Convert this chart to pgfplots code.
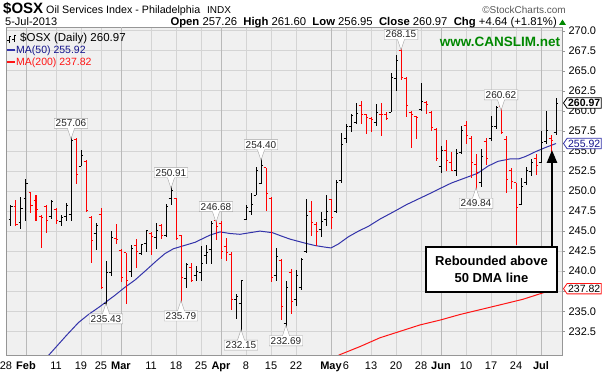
\documentclass[border=0pt]{standalone}
\usepackage{fontspec}
\setmainfont{Liberation Sans}
\usepackage{pgfplots}
\pgfplotsset{compat=1.18}
\usepackage{pgfplotstable}
\usetikzlibrary{shapes.callouts,shapes.symbols,arrows.meta}

\definecolor{plotbg}{RGB}{240,240,240}
\definecolor{gridc}{RGB}{212,212,212}
\definecolor{monthc}{RGB}{185,185,185}
\definecolor{borderc}{RGB}{150,150,150}
\definecolor{barred}{RGB}{255,0,0}
\definecolor{mablue}{RGB}{51,51,170}
\definecolor{mared}{RGB}{255,20,20}
\definecolor{cgreen}{RGB}{0,136,0}
\definecolor{lblgray}{RGB}{165,165,165}
\definecolor{navytxt}{RGB}{20,20,140}

\pgfdeclareplotmark{openL}{\pgfpathmoveto{\pgfpoint{-\pgfplotmarksize}{0pt}}\pgfpathlineto{\pgfpoint{0pt}{0pt}}\pgfusepathqstroke}
\pgfdeclareplotmark{closeR}{\pgfpathmoveto{\pgfpoint{0pt}{0pt}}\pgfpathlineto{\pgfpoint{\pgfplotmarksize}{0pt}}\pgfusepathqstroke}

\tikzset{
  lblup/.style={rectangle callout, draw=lblgray, fill=white, text=black!85, font=\fontsize{10}{10}\selectfont, inner xsep=1.5pt, inner ysep=1.5pt, yshift=11pt, callout relative pointer={(0pt,-10.5pt)}, callout pointer width=7pt},
  lbldn/.style={rectangle callout, draw=lblgray, fill=white, text=black!85, font=\fontsize{10}{10}\selectfont, inner xsep=1.5pt, inner ysep=1.5pt, yshift=-11pt, callout relative pointer={(0pt,10.5pt)}, callout pointer width=7pt},
}

\pgfplotstableread{
x O H L C
1 246.45 248.25 245.64 248.05
3 246.04 249.25 245.24 247.85
4 249.05 251.45 246.25 250.97
9 246.85 248.85 246.45 248.73
11 246.25 247.05 245.64 246.65
12 246.85 248.45 246.25 248.25
13 247.05 257.06 246.25 256.26
15 253.06 255.06 253.06 254.46
18 244.64 246.04 242.64 245.70
20 235.91 241.24 235.43 239.83
21 239.83 245.04 239.43 244.24
25 239.91 243.24 239.23 242.84
27 242.24 243.44 242.04 243.36
28 243.44 245.12 242.44 245.04
30 244.24 246.04 242.72 245.04
32 244.44 248.33 244.32 248.05
33 249.05 250.91 248.25 250.05
36 239.03 241.04 237.91 240.84
38 239.50 240.70 238.80 240.00
39 239.80 243.10 238.80 241.00
40 241.90 243.30 240.90 242.30
41 242.70 246.20 240.90 246.00
46 236.50 237.10 234.10 236.80
47 236.00 238.90 232.15 238.80
48 246.50 248.20 246.40 248.00
49 247.50 249.70 247.00 248.30
50 249.50 253.00 249.50 252.60
51 250.90 254.40 250.90 253.20
54 239.50 242.90 238.80 241.80
56 233.50 238.80 232.69 238.00
58 236.50 240.20 235.70 239.50
59 238.00 241.60 237.70 241.50
60 242.40 249.00 242.30 247.00
63 245.20 247.40 244.30 246.20
64 246.50 249.50 245.60 247.50
66 247.40 251.40 247.30 251.00
67 251.30 257.20 251.00 255.80
68 256.50 258.30 256.00 258.10
69 258.00 259.60 257.30 259.40
70 258.50 261.00 258.30 259.70
74 258.50 260.80 258.10 259.80
77 259.80 264.70 259.80 264.10
78 264.00 266.90 262.50 266.30
83 260.10 263.50 260.00 261.20
87 253.00 255.60 252.30 255.10
90 252.50 255.20 251.90 254.70
91 254.80 258.10 254.60 257.60
95 251.00 255.20 250.50 254.30
97 256.60 259.30 256.20 258.00
98 258.00 260.60 257.70 260.40
103 248.30 251.60 248.20 250.60
104 251.00 253.00 250.80 252.60
105 252.40 254.00 251.90 253.60
107 253.60 257.50 253.50 256.00
108 256.20 260.00 255.80 257.50
110 257.26 261.60 256.95 260.97
}\blackbars

\pgfplotstableread{
x O H L C
2 248.05 248.85 245.64 245.84
5 249.85 249.93 247.25 248.25
6 248.85 249.45 246.25 247.65
7 246.85 247.05 242.84 246.65
8 248.05 248.25 244.72 246.33
10 247.65 247.85 245.84 246.33
14 256.46 256.66 250.85 252.05
16 253.66 253.86 247.45 247.53
17 246.73 246.85 241.04 243.84
19 247.05 247.85 237.83 237.91
22 244.04 245.92 243.36 243.92
23 242.64 242.72 238.63 239.23
24 242.30 242.32 235.91 238.80
26 243.24 244.04 240.44 242.50
29 244.72 244.84 242.04 244.30
31 245.64 245.92 244.04 244.44
34 249.05 249.13 243.84 244.04
35 244.44 244.56 235.79 239.23
37 240.50 241.00 238.60 238.90
42 246.30 246.68 243.90 245.60
43 246.00 246.20 241.50 242.50
44 243.10 244.20 241.30 242.30
45 242.10 242.40 235.20 236.50
52 252.90 252.90 247.45 249.70
53 249.10 249.30 238.70 239.20
55 241.30 241.50 233.90 235.65
57 239.80 240.30 234.60 236.20
61 247.50 248.75 244.40 246.10
62 245.80 246.10 243.10 245.00
65 249.00 249.00 245.20 246.75
71 260.60 261.25 258.30 259.50
72 259.50 259.60 257.10 259.20
73 259.00 259.20 257.30 258.90
75 259.60 261.00 256.80 259.50
76 259.60 259.90 258.90 259.10
79 267.50 268.15 263.80 264.20
80 264.00 264.20 259.20 260.60
81 259.80 260.00 255.40 259.60
82 259.30 259.40 256.50 259.20
84 261.00 261.20 259.60 260.80
85 259.80 260.00 257.50 257.90
86 257.70 257.90 253.75 254.00
88 255.00 256.30 252.50 253.80
89 253.60 254.90 252.50 252.60
92 258.20 258.70 255.80 256.90
93 256.50 256.80 251.60 253.50
94 253.30 254.60 249.84 252.30
96 256.20 256.60 253.30 254.00
99 260.50 260.62 257.10 257.30
100 256.40 256.80 249.80 251.40
101 252.50 252.90 250.20 251.20
102 251.00 251.00 243.30 247.90
106 254.00 254.60 252.00 253.20
109 256.50 257.00 254.90 256.33
}\redbars

\begin{document}
\begin{tikzpicture}
\path[use as bounding box] (0,0) rectangle (604pt,374pt);
\begin{axis}[
  at={(6pt,19pt)}, anchor=south west,
  scale only axis, width=556pt, height=328pt,
  xmin=0, xmax=111.2, ymin=229.55, ymax=270.45,
  axis background/.style={fill=plotbg},
  axis line style={draw=borderc, line width=0.8pt},
  clip mode=individual,
  xtick={0,4,10,15,19,23,29,34,39,43,48,53,58,65,68,73,78,83,87,92,97,102,107},
  xticklabels={28,\textbf{Feb},11,19,25,\textbf{Mar},11,18,25,\textbf{Apr},8,15,22,\textbf{May},6,13,20,28,\textbf{Jun},10,17,24,\textbf{Jul}},
  xtick style={draw=none},
  extra x ticks={4,23,43,65,87,107},
  extra x tick labels={},
  extra x tick style={grid style={monthc, line width=0.8pt}, draw=none},
  xmajorgrids, ymajorgrids,
  grid style={gridc, line width=0.7pt},
  ytick={232.5,235,237.5,240,242.5,245,247.5,250,252.5,255,257.5,260,262.5,265,267.5,270},
  yticklabels={232.5,235.0,,240.0,242.5,245.0,247.5,250.0,252.5,255.0,257.5,260.0,262.5,265.0,267.5,270.0},
  yticklabel pos=right, ytick pos=right,
  tick align=outside, major tick length=3pt,
  ytick style={draw=borderc},
  tick label style={font=\fontsize{11}{12}\selectfont},
]
% moving averages
\addplot[mablue, line width=1pt] coordinates {
(7.5,228.8) (9.8,230.4) (12.1,232.0) (14.5,233.6) (16.5,234.6) (18.8,235.6) (21.8,237.0) (23.8,238.0)
(25.8,238.9) (27.8,240.0) (30.1,241.3) (31.8,242.2) (33.5,242.8) (35.1,243.1) (37.8,243.6) (40.8,244.5)
(42.8,244.9) (44.8,244.7) (46.8,244.6) (48.8,244.8) (50.8,245.0) (53.3,244.8) (55,244.4) (56.8,244.0)
(59.8,243.5) (61.8,243.2) (63.8,243.0) (65,242.9) (66.5,243.4) (68.5,244.3) (70.5,245.0) (72.5,245.6)
(74.8,246.5) (77.5,247.4) (80.1,248.3) (82.8,249.1) (85.5,249.9) (87.1,250.4) (89.1,251.0) (91.7,251.6)
(94.3,252.2) (96.4,253.1) (98.4,253.7) (100.8,254.0) (102.5,254.0) (103.9,254.3) (105.9,254.9) (107.8,255.4) (110,255.92)};
\addplot[mared, line width=1pt] coordinates {
(63.5,228.6) (64.8,229.0) (66.8,229.6) (70.8,230.6) (74.8,231.7) (78.8,232.5) (82.8,233.3) (86.8,233.9)
(90.8,234.6) (94.8,235.2) (98.8,235.8) (103.4,236.5) (110,237.82)};
% OHLC bars
\addplot[only marks, black, mark=closeR, mark size=2.3pt, mark options={line width=1pt},
  error bars/.cd, y dir=both, y explicit, error mark=none, error bar style={line width=1pt, black}]
  table[x=x, y=C, y error plus expr=\thisrow{H}-\thisrow{C}, y error minus expr=\thisrow{C}-\thisrow{L}] {\blackbars};
\addplot[only marks, black, mark=openL, mark size=2.3pt, mark options={line width=1pt}]
  table[x=x, y=O] {\blackbars};
\addplot[only marks, barred, mark=closeR, mark size=2.3pt, mark options={line width=1pt},
  error bars/.cd, y dir=both, y explicit, error mark=none, error bar style={line width=1pt, barred}]
  table[x=x, y=C, y error plus expr=\thisrow{H}-\thisrow{C}, y error minus expr=\thisrow{C}-\thisrow{L}] {\redbars};
\addplot[only marks, barred, mark=openL, mark size=2.3pt, mark options={line width=1pt}]
  table[x=x, y=O] {\redbars};
% anchor points for callouts
\coordinate (u1) at (axis cs:13,257.06);
\coordinate (u2) at (axis cs:33,250.91);
\coordinate (d1) at (axis cs:20,235.43);
\coordinate (d2) at (axis cs:35,235.79);
\coordinate (u3) at (axis cs:42,246.68);
\coordinate (u4) at (axis cs:51,254.40);
\coordinate (d3) at (axis cs:47,232.15);
\coordinate (d4) at (axis cs:56,232.69);
\coordinate (u5) at (axis cs:79,268.15);
\coordinate (u6) at (axis cs:99,260.62);
\coordinate (d5) at (axis cs:94,249.84);
\coordinate (rA) at (axis cs:111.2,260.97);
\coordinate (rB) at (axis cs:111.2,255.92);
\coordinate (rC) at (axis cs:111.2,237.82);
\end{axis}
% value callouts
\node[lblup] at (u1) {257.06};
\node[lblup] at (u2) {250.91};
\node[lbldn] at (d1) {235.43};
\node[lbldn] at (d2) {235.79};
\node[lblup] at (u3) {246.68};
\node[lblup] at (u4) {254.40};
\node[lbldn] at (d3) {232.15};
\node[lbldn] at (d4) {232.69};
\node[lblup] at (u5) {268.15};
\node[lblup] at (u6) {260.62};
\node[lbldn] at (d5) {249.84};
% right-hand value tags
\node[signal, signal to=west, signal pointer angle=110, draw=black, line width=0.8pt, fill=white, font=\bfseries\fontsize{10.5}{10.5}\selectfont, inner xsep=1pt, inner ysep=1.5pt, anchor=west] at ([xshift=1pt]rA) {260.97};
\node[signal, signal to=west, signal pointer angle=110, draw=mablue, line width=0.8pt, fill=white, text=navytxt, font=\fontsize{10.5}{10.5}\selectfont, inner xsep=1pt, inner ysep=1.5pt, anchor=west] at ([xshift=1pt]rB) {255.92};
\node[signal, signal to=west, signal pointer angle=110, draw=mared, line width=0.8pt, fill=white, font=\fontsize{10.5}{10.5}\selectfont, inner xsep=1pt, inner ysep=1.5pt, anchor=west] at ([xshift=1pt]rC) {237.82};
\begin{scope}[shift={(0,374pt)}, x=1pt, y=-1pt]
  % header
  \node[anchor=base west, inner sep=0pt, font=\bfseries\fontsize{15}{15}\selectfont] at (3,14) {\$OSX};
  \node[anchor=base west, inner sep=0pt, font=\fontsize{10.7}{10.7}\selectfont] at (46,14) {Oil Services Index - Philadelphia};
  \node[anchor=base west, inner sep=0pt, font=\fontsize{10}{10}\selectfont] at (207,14) {INDX};
  \node[anchor=base east, inner sep=0pt, text=black!65, font=\fontsize{10}{10}\selectfont] at (566,14) {\textcopyright StockCharts.com};
  \node[anchor=base west, inner sep=0pt, font=\fontsize{11}{11}\selectfont] at (5,25.5) {5-Jul-2013};
  \node[anchor=base east, inner sep=0pt, font=\fontsize{11.3}{11.3}\selectfont] at (557,25.5) {\textbf{Open} 257.26\ \ \textbf{High} 261.60\ \ \textbf{Low} 256.95\ \ \textbf{Close} 260.97\ \ \textbf{Chg} +4.64 (+1.81\%)};
  \fill[cgreen] (559,25) -- (566,25) -- (562.5,19.5) -- cycle;
  % legend
  \draw[black, line width=1pt] (9,36) -- (9,43) (7,41) -- (9,41) (9,37) -- (11,37);
  \draw[black, line width=1pt] (14,35) -- (14,42) (12,40) -- (14,40) (14,36) -- (16,36);
  \node[anchor=base west, inner sep=0pt, font=\fontsize{11.5}{11.5}\selectfont] at (20,42) {\$OSX (Daily) 260.97};
  \draw[mablue, line width=2pt] (7,50.5) -- (15,50.5);
  \node[anchor=base west, inner sep=0pt, text=navytxt, font=\fontsize{10.5}{10.5}\selectfont] at (16,54) {MA(50) 255.92};
  \draw[mared, line width=2pt] (7,62.5) -- (15,62.5);
  \node[anchor=base west, inner sep=0pt, text=mared, font=\fontsize{10.5}{10.5}\selectfont] at (16,66) {MA(200) 237.82};
  \node[anchor=center, inner sep=0pt, text=cgreen, font=\bfseries\fontsize{13.5}{13.5}\selectfont] at (500,42) {www.CANSLIM.net};
  % annotation
  \draw[black, line width=1.6pt, fill=white] (426,247) rectangle (557,292);
  \node[anchor=center, align=center, inner sep=0pt, font=\bfseries\fontsize{13}{16.5}\selectfont] at (491.5,269.5) {Rebounded above\\50 DMA line};
  \draw[black, line width=2.5pt, -{Triangle[width=10pt,length=13pt]}] (552,247) -- (552,150);
\end{scope}
\end{tikzpicture}
\end{document}
